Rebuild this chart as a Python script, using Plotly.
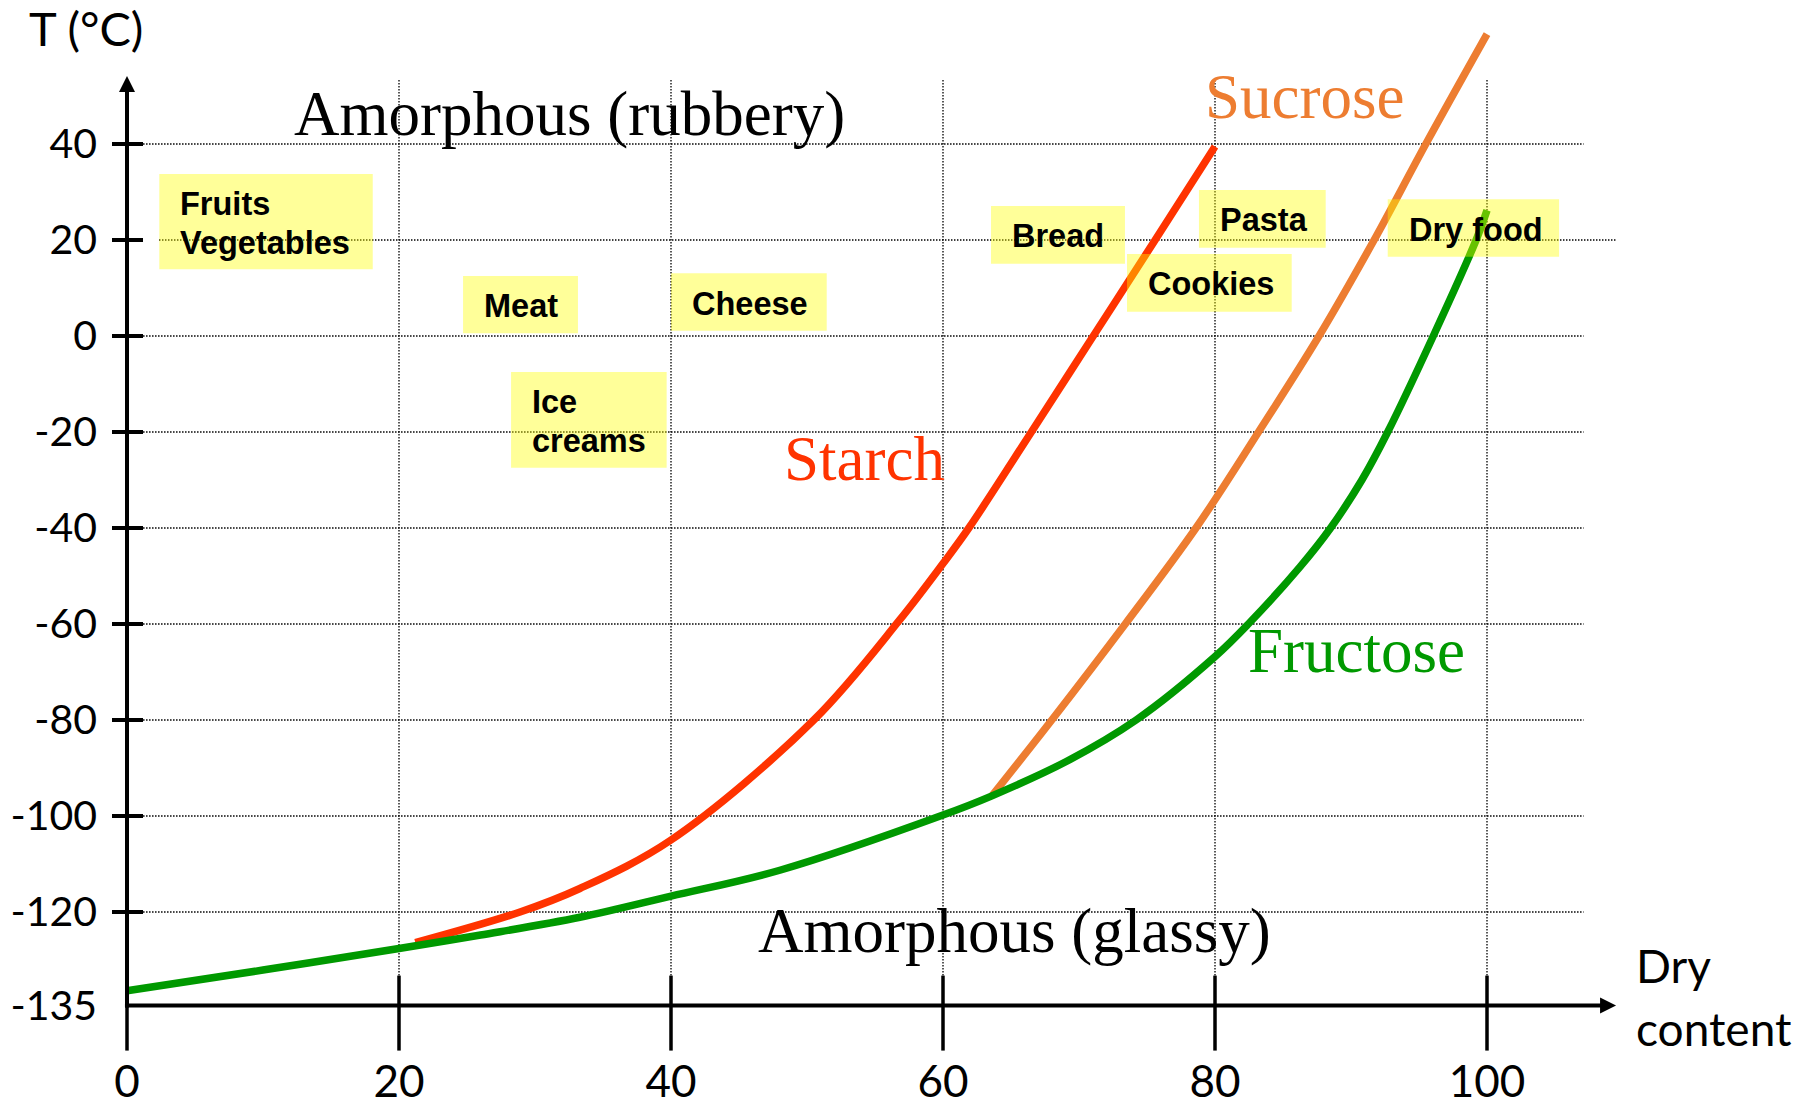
import plotly.graph_objects as go

# ---- data: glass transition temperature (°C) against dry content (%) ----
starch_x = [21.2, 28.9, 33.3, 40, 50.5, 56.8, 60, 61.9, 66.5, 71.05, 75.6, 80]
starch_y = [-126.4, -120, -115.1, -105, -80, -59.2, -47.4, -40, -20, 0, 20, 39.5]

sucrose_x = [63.6, 68.0, 73.4, 78.6, 83.2, 87.65, 91.7, 95.5, 100]
sucrose_y = [-95.8, -80, -60, -40, -20, 0, 20, 40, 62.9]

fructose_x = [0, 10, 20, 26, 33.3, 40, 48, 60, 63.6, 69.1, 74.2, 80, 82.45, 86.25,
              88.5, 90.8, 92.7, 96.05, 99.2, 100]
fructose_y = [-136.4, -132.1, -127.6, -124.8, -121.1, -116.7, -111.3, -99.8, -95.8,
              -88.6, -80, -66.8, -60, -48.1, -40, -30, -20, 0, 20, 26.2]

curve_names = ["Starch", "Sucrose", "Fructose"]
foods = ["Fruits<br>Vegetables", "Meat", "Cheese", "Ice<br>creams",
         "Bread", "Pasta", "Cookies", "Dry food"]
state_labels = ["Amorphous (rubbery)", "Amorphous (glassy)"]

x_ticks = [0, 20, 40, 60, 80, 100]
y_ticks = [40, 20, 0, -20, -40, -60, -80, -100, -120]
y_floor_text = "-135"

# ---- layout / styling ----
X_MIN, X_MAX = -9.338, 123.75
Y_MIN, Y_MAX = -160.21, 70.0
Y_FLOOR = -139.5            # where the horizontal axis is drawn
X_ARROW = 109.49            # tip of the horizontal axis arrow
Y_ARROW = 54.17             # tip of the vertical axis arrow

C_STARCH = "#FF3300"
C_SUCROSE = "#ED7D31"
C_FRUCTOSE = "#009900"
BOX_FILL = "rgba(255,255,0,0.4)"
SERIF = "Liberation Serif"
SANS = "Lato"
BOX_FONT = dict(family="Liberation Sans", size=32.5, color="black", weight="bold")
BOX_LINE_GAP = 39           # px between the lines of a two-line food label

# food boxes: (x0, x1, y_top, y_bottom) in axis units
food_boxes = [
    (2.375, 18.07, 33.75, 13.9),
    (24.71, 33.16, 12.5, 0.56),
    (40.0, 51.45, 13.06, 1.1),
    (28.24, 39.68, -7.5, -27.44),
    (63.53, 73.38, 27.08, 15.06),
    (78.82, 88.14, 30.42, 18.4),
    (73.53, 85.64, 17.08, 5.06),
    (92.7, 105.3, 28.48, 16.52),
]
BOX_TEXT_INSET = 1.544

# curve labels: (x centre, y centre)
curve_label_pos = [(54.26, -25.56), (86.58, 49.85), (90.42, -65.71)]
state_label_pos = [(32.57, 46.31), (65.29, -123.9)]

fig = go.Figure()

for xs, ys, col, name in zip([starch_x, sucrose_x, fructose_x],
                             [starch_y, sucrose_y, fructose_y],
                             [C_STARCH, C_SUCROSE, C_FRUCTOSE], curve_names):
    fig.add_trace(go.Scatter(
        x=xs, y=ys, mode="lines", name=name,
        line=dict(color=col, width=7.5, shape="spline", smoothing=1.0),
        hoverinfo="skip", showlegend=False))

shapes = []
dot = dict(color="black", width=1.3, dash="1.5px,1.5px")

# dotted grid
for v in y_ticks:
    if v == 20:
        shapes.append(dict(type="line", xref="x", yref="y", x0=2.35, x1=109.45,
                           y0=v, y1=v, line=dot, layer="below"))
    else:
        shapes.append(dict(type="line", xref="x", yref="y", x0=1.18, x1=107.1,
                           y0=v, y1=v, line=dot, layer="below"))
for v in x_ticks[1:]:
    shapes.append(dict(type="line", xref="x", yref="y", x0=v, x1=v,
                       y0=Y_FLOOR, y1=53.5, line=dot, layer="below"))

# axes
axis_line = dict(color="black", width=4)
shapes.append(dict(type="line", xref="x", yref="y", x0=0, x1=0,
                   y0=Y_FLOOR - 0.4, y1=Y_ARROW - 2.5, line=axis_line))
shapes.append(dict(type="line", xref="x", yref="y", x0=-0.15, x1=X_ARROW - 0.9,
                   y0=Y_FLOOR, y1=Y_FLOOR, line=axis_line))
shapes.append(dict(type="path", xref="x", yref="y", xsizemode="pixel",
                   ysizemode="pixel", xanchor=0, yanchor=Y_ARROW,
                   path="M0,0 L-8,-16 L8,-16 Z", fillcolor="black",
                   line=dict(width=0)))
shapes.append(dict(type="path", xref="x", yref="y", xsizemode="pixel",
                   ysizemode="pixel", xanchor=X_ARROW, yanchor=Y_FLOOR,
                   path="M0,0 L-16,8 L-16,-8 Z", fillcolor="black",
                   line=dict(width=0)))

# tick marks crossing the axes
for v in x_ticks:
    shapes.append(dict(type="line", xref="x", yref="y", ysizemode="pixel",
                       yanchor=Y_FLOOR, x0=v, x1=v, y0=-45, y1=30,
                       line=dict(color="black", width=3.5)))
for v in y_ticks:
    shapes.append(dict(type="line", xref="x", yref="y", xsizemode="pixel",
                       xanchor=0, x0=-15, x1=16, y0=v, y1=v,
                       line=dict(color="black", width=4)))

# translucent food boxes
for (x0, x1, yt, yb) in food_boxes:
    shapes.append(dict(type="rect", xref="x", yref="y", x0=x0, x1=x1, y0=yb, y1=yt,
                       fillcolor=BOX_FILL, line=dict(width=0), layer="above"))

annotations = []
for food, (x0, x1, yt, yb) in zip(foods, food_boxes):
    lines = food.split("<br>")
    n = len(lines)
    for i, line in enumerate(lines):
        shift = -((i - (n - 1) / 2) * BOX_LINE_GAP) - 1.5
        annotations.append(dict(
            text=line, x=x0 + BOX_TEXT_INSET, y=(yt + yb) / 2, yshift=shift,
            xref="x", yref="y", xanchor="left", yanchor="middle", align="left",
            showarrow=False, borderpad=0, borderwidth=0, font=BOX_FONT))

for name, col, (cx, cy) in zip(curve_names, [C_STARCH, C_SUCROSE, C_FRUCTOSE],
                               curve_label_pos):
    annotations.append(dict(text=name, x=cx, y=cy, xref="x", yref="y",
                            xanchor="center", yanchor="middle", showarrow=False,
                            borderpad=0, borderwidth=0,
                            font=dict(family=SERIF, size=63, color=col)))

for lab, (cx, cy) in zip(state_labels, state_label_pos):
    annotations.append(dict(text=lab, x=cx, y=cy, xref="x", yref="y",
                            xanchor="center", yanchor="middle", showarrow=False,
                            borderpad=0, borderwidth=0,
                            font=dict(family=SERIF, size=63, color="black")))

# axis titles
annotations.append(dict(text="T (°C)", x=-7.206, y=64.125, xref="x", yref="y",
                        xanchor="left", yanchor="middle", showarrow=False,
                        borderpad=0, borderwidth=0,
                        font=dict(family=SANS, size=47, color="black")))
annotations.append(dict(text="Dry", x=110.95, y=-131.1, xref="x", yref="y",
                        xanchor="left", yanchor="middle", showarrow=False,
                        borderpad=0, borderwidth=0,
                        font=dict(family=SANS, size=46, color="black")))
annotations.append(dict(text="content", x=110.95, y=-144.2, xref="x", yref="y",
                        xanchor="left", yanchor="middle", showarrow=False,
                        borderpad=0, borderwidth=0,
                        font=dict(family=SANS, size=46, color="black")))

x_axis_pos = (Y_FLOOR - Y_MIN) / (Y_MAX - Y_MIN)
y_axis_pos = (0 - X_MIN) / (X_MAX - X_MIN)

fig.update_layout(
    width=1810, height=1105,
    margin=dict(l=0, r=0, t=0, b=0, autoexpand=False),
    paper_bgcolor="white", plot_bgcolor="white",
    showlegend=False,
    shapes=shapes, annotations=annotations,
    xaxis=dict(range=[X_MIN, X_MAX], anchor="free", position=x_axis_pos,
               automargin=False,
               showgrid=False, zeroline=False, showline=False, ticks="",
               tickvals=x_ticks, ticktext=[str(v) for v in x_ticks],
               ticklabelstandoff=46,
               tickfont=dict(family=SANS, size=44, color="black"),
               fixedrange=True),
    yaxis=dict(range=[Y_MIN, Y_MAX], anchor="free", position=y_axis_pos,
               automargin=False,
               showgrid=False, zeroline=False, showline=False, ticks="",
               tickvals=y_ticks + [Y_FLOOR],
               ticktext=[str(v) for v in y_ticks] + [y_floor_text],
               ticklabelstandoff=30,
               tickfont=dict(family=SANS, size=41, color="black"),
               fixedrange=True),
)

fig.write_html("out.html")
